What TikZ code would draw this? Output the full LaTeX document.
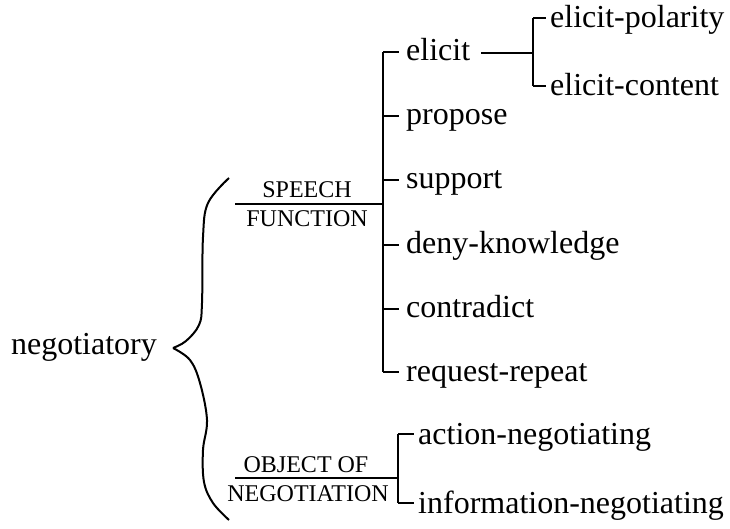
\documentclass[tikz,border=0pt]{standalone}
\usepackage{fontspec}
\setmainfont{Liberation Serif}
\usepackage{tikz}

\tikzset{
  term/.style={font=\fontsize{32}{36}\selectfont, inner sep=0pt, anchor=base west},
  sysname/.style={font=\fontsize{24}{28}\selectfont, inner sep=0pt, anchor=base},
  net/.style={line width=2.2pt},
}

\begin{document}
\begin{tikzpicture}[x=1pt, y=-1pt]
  \useasboundingbox (0,0) rectangle (730,529);

  % entry condition and the brace
  \node[term, anchor=base east] (neg) at (157,354) {negotiatory};
  \draw[line width=2pt] plot[smooth, tension=0.6] coordinates {(229,178) (208,203) (203,237) (202,303) (199,325) (186,341) (173,348)};
  \draw[line width=2pt] plot[smooth, tension=0.6] coordinates {(173,348) (190,360) (200,383) (207,420) (203,450) (204,482) (213,503) (229,520)};

  % speech function system
  \node[sysname] (sfa) at (307,198) {SPEECH};
  \node[sysname] (sfb) at (307,227) {FUNCTION};
  \coordinate (sf) at (235,204);
  \coordinate (s1) at (383,52);
  \coordinate (s2) at (383,116);
  \coordinate (s3) at (383,180);
  \coordinate (s4) at (383,245);
  \coordinate (s5) at (383,309);
  \coordinate (s6) at (383,372);
  \draw[net] (sf) -- (sf -| s1);
  \draw[net] (s1) -- (s6);

  \node[term] (elicit) at (406,61) {elicit};
  \node[term] (propose) at (406,125) {propose};
  \node[term] (support) at (406,189) {support};
  \node[term] (deny) at (406,253) {deny-knowledge};
  \node[term] (contra) at (406,317) {contradict};
  \node[term] (repeat) at (406,381) {request-repeat};

  \draw[net] (s1) -- ([xshift=-7pt]s1 -| elicit.west);
  \draw[net] (s2) -- ([xshift=-7pt]s2 -| propose.west);
  \draw[net] (s3) -- ([xshift=-7pt]s3 -| support.west);
  \draw[net] (s4) -- ([xshift=-7pt]s4 -| deny.west);
  \draw[net] (s5) -- ([xshift=-7pt]s5 -| contra.west);
  \draw[net] (s6) -- ([xshift=-7pt]s6 -| repeat.west);

  % elicit subsystem
  \coordinate (e0) at (533,53);
  \coordinate (e1) at (533,18);
  \coordinate (e2) at (533,86);
  \draw[net] ([xshift=11pt]elicit.east |- e0) -- (e0);
  \draw[net] (e1) -- (e2);
  \node[term] (pol) at (550,28) {elicit-polarity};
  \node[term] (cont) at (550,96) {elicit-content};
  \draw[net] (e1) -- ([xshift=-4pt]e1 -| pol.west);
  \draw[net] (e2) -- ([xshift=-4pt]e2 -| cont.west);

  % object of negotiation system
  \node[sysname] (ona) at (306,472) {OBJECT OF};
  \node[sysname] (onb) at (308,501) {NEGOTIATION};
  \coordinate (on) at (235,478);
  \coordinate (o1) at (398,434);
  \coordinate (o2) at (398,503);
  \draw[net] (on) -- (on -| o1);
  \draw[net] (o1) -- (o2);
  \node[term] (action) at (418,444) {action-negotiating};
  \node[term] (info) at (418,513) {information-negotiating};
  \draw[net] (o1) -- ([xshift=-4pt]o1 -| action.west);
  \draw[net] (o2) -- ([xshift=-4pt]o2 -| info.west);
\end{tikzpicture}
\end{document}
